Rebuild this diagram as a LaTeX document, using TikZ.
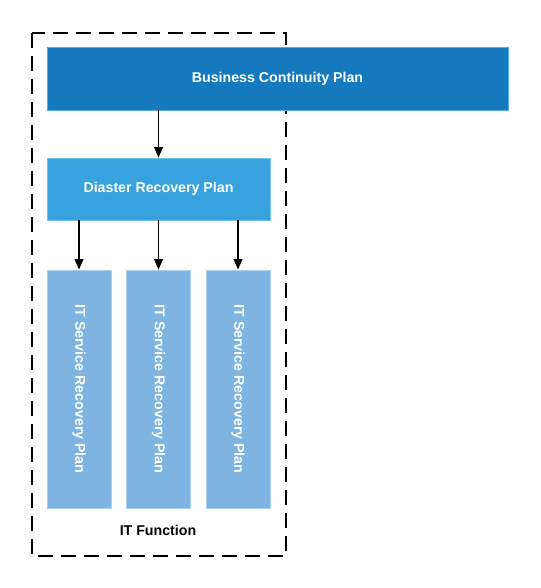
\documentclass[tikz,border=0pt]{standalone}
\usepackage{fontspec}
\setmainfont{Liberation Sans}
\usetikzlibrary{arrows.meta}

\definecolor{bcpfill}{HTML}{1479BD}
\definecolor{bcpedge}{HTML}{58AEE6}
\definecolor{drpfill}{HTML}{37A2DD}
\definecolor{drpedge}{HTML}{72C2F0}
\definecolor{itfill}{HTML}{7DB4E2}
\definecolor{itedge}{HTML}{A8D2F2}

\tikzset{
  plan/.style={draw, line width=0.7pt, inner sep=0pt, text=white,
    font=\bfseries\fontsize{10.1}{12}\selectfont},
  conn/.style={-{Triangle[length=0.26cm,width=0.22cm]}, line width=0.85pt},
}

\begin{document}
\begin{tikzpicture}
    \useasboundingbox (0,0) rectangle (13.5,-14.7);

    % 外枠
    \draw[line width=0.85pt, dash pattern=on 0.375cm off 0.2cm]
      (0.8,-0.825) rectangle (7.15,-13.9);
    \node[font=\bfseries\fontsize{10.1}{12}\selectfont] (itfn) at (3.95,-13.25) {IT Function};

    % 上段
    \node[plan, fill=bcpfill, draw=bcpedge, minimum width=11.525cm, minimum height=1.575cm]
      (bcp) at (6.9375,-1.9625) {Business Continuity Plan};
    \node[plan, fill=drpfill, draw=drpedge, minimum width=5.575cm, minimum height=1.55cm]
      (drp) at (3.9625,-4.725) {Diaster Recovery Plan};

    % 下段
    \node[plan, fill=itfill, draw=itedge, minimum width=1.6cm, minimum height=5.95cm]
      (it1) at (1.975,-9.725) {\rotatebox{-90}{IT Service Recovery Plan}};
    \node[plan, fill=itfill, draw=itedge, minimum width=1.6cm, minimum height=5.95cm]
      (it2) at (3.9625,-9.725) {\rotatebox{-90}{IT Service Recovery Plan}};
    \node[plan, fill=itfill, draw=itedge, minimum width=1.6cm, minimum height=5.95cm]
      (it3) at (5.95,-9.725) {\rotatebox{-90}{IT Service Recovery Plan}};

    % 矢印
    \draw[conn] (bcp.south -| drp.north) -- (drp.north);
    \foreach \i in {1,2,3}
      \draw[conn] (drp.south -| it\i.north) -- (it\i.north);
  \end{tikzpicture}
\end{document}
